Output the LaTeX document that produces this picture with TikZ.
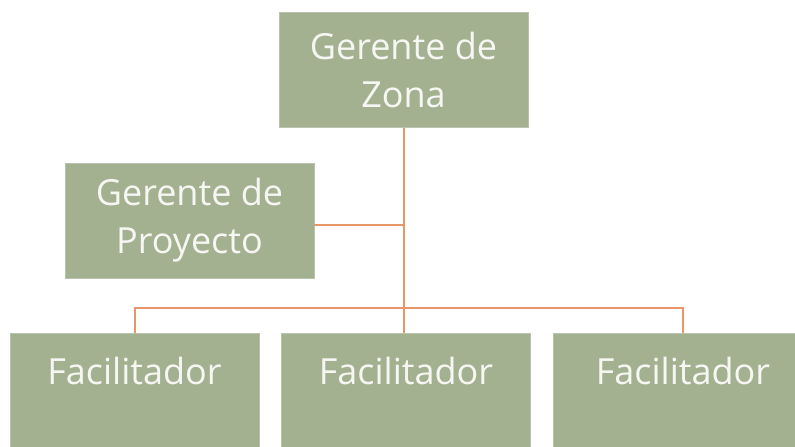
\documentclass[tikz,border=0pt]{standalone}
\usepackage{fontspec}
\setmainfont{Open Sans}
\usepackage{tikz}
\definecolor{boxgreen}{HTML}{A4B191}
\definecolor{boxedge}{HTML}{B9C2AD}
\definecolor{linkorange}{HTML}{E9956A}
\definecolor{txtwhite}{HTML}{F6F6F2}

\begin{document}
\begin{tikzpicture}[x=1pt,y=-1pt]
\tikzstyle{orgbox}=[rectangle,fill=boxgreen,draw=boxedge,line width=0.6pt,
  minimum width=249pt,minimum height=115pt,inner sep=0pt,align=center,
  text=txtwhite,font=\fontsize{36}{48}\selectfont]
\tikzstyle{facbox}=[orgbox,anchor=north,text height=51pt,text depth=64pt]
\tikzstyle{link}=[draw=linkorange,line width=2pt]
\useasboundingbox (0,0) rectangle (795,447);
\node[orgbox] (zona) at (403.5,70) {Gerente de\\Zona};
\node[orgbox] (proyecto) at (189.5,220.5) {Gerente de\\Proyecto};
\node[facbox] (fac1) at (134.5,333) {Facilitador};
\node[facbox] (fac2) at (406,333) {Facilitador};
\node[facbox,minimum width=260pt] (fac3) at (683,333) {Facilitador};
\coordinate (bus) at (zona.south |- 0,308);
\draw[link] (zona.south) -- (zona.south |- fac2.north);
\draw[link] ([yshift=-4.5pt]proyecto.east) -- ([yshift=-4.5pt]proyecto.east -| zona.south);
\draw[link] (fac1.north) -- (fac1.north |- bus) -- (fac3.north |- bus) -- (fac3.north);
\end{tikzpicture}
\end{document}
